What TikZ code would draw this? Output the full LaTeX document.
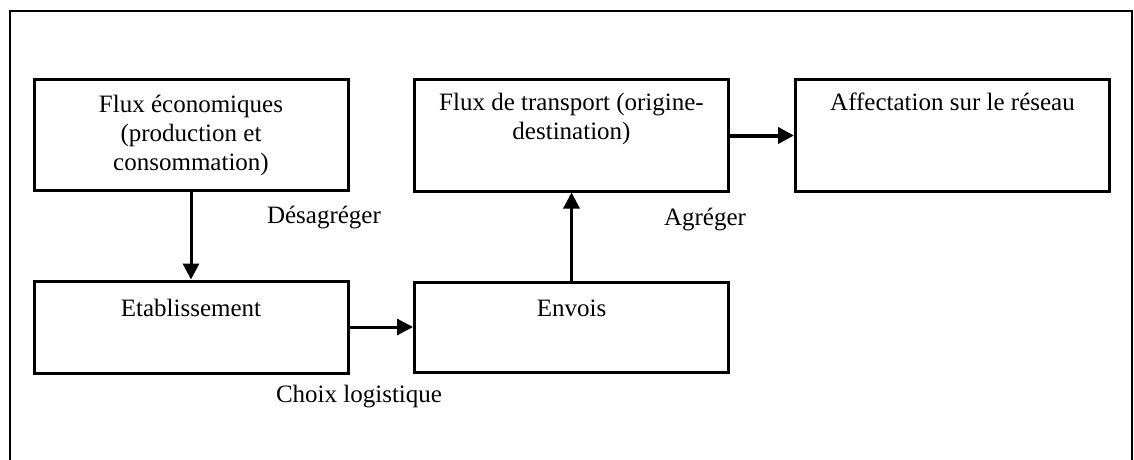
\documentclass[tikz,border=0pt]{standalone}
\usepackage{fontspec}
\setmainfont{Liberation Serif}
\usetikzlibrary{arrows.meta}
\begin{document}
\begin{tikzpicture}[x=0.5pt, y=-0.5pt,
        bloc/.style={draw, line width=1.5pt, minimum width=157pt, inner sep=0pt, align=center, font=\fontsize{12.5}{14.5}\selectfont},
        fleche/.style={line width=1.5pt, -{Triangle[length=8pt,width=8pt]}},
        etiq/.style={font=\fontsize{12.5}{14.5}\selectfont}]
        \useasboundingbox (0,0) rectangle (1134,460);
        \draw[line width=1.2pt] (10,460) -- (10,11) -- (1132,11) -- (1132,460);

        \node[bloc, minimum height=55pt] (eco) at (191,135) {Flux économiques\\(production et\\consommation)};
        \node[bloc, minimum height=46pt] (etab) at (191,327) {Etablissement\\\strut};
        \node[bloc, minimum height=45pt] (envois) at (571.5,327) {Envois\\\strut};
        \node[bloc, minimum height=55.5pt] (transport) at (571.5,135.5) {Flux de transport (origine-\\destination)\\\strut};
        \node[bloc, minimum height=55.5pt] (affect) at (952.5,135.5) {Affectation sur le réseau\\\strut\\\strut};

        \draw[fleche] (eco.south) -- (etab.north);
        \draw[fleche] (etab.east) -- (envois.west);
        \draw[fleche] (envois.north) -- (transport.south);
        \draw[fleche, line width=2pt] (transport.east) -- (affect.west);

        \node[etiq] (desag) at (324,218) {Désagréger};
        \node[etiq] (agreg) at (705,220) {Agréger};
        \node[etiq] (choix) at (359,397) {Choix logistique};
    \end{tikzpicture}
\end{document}
